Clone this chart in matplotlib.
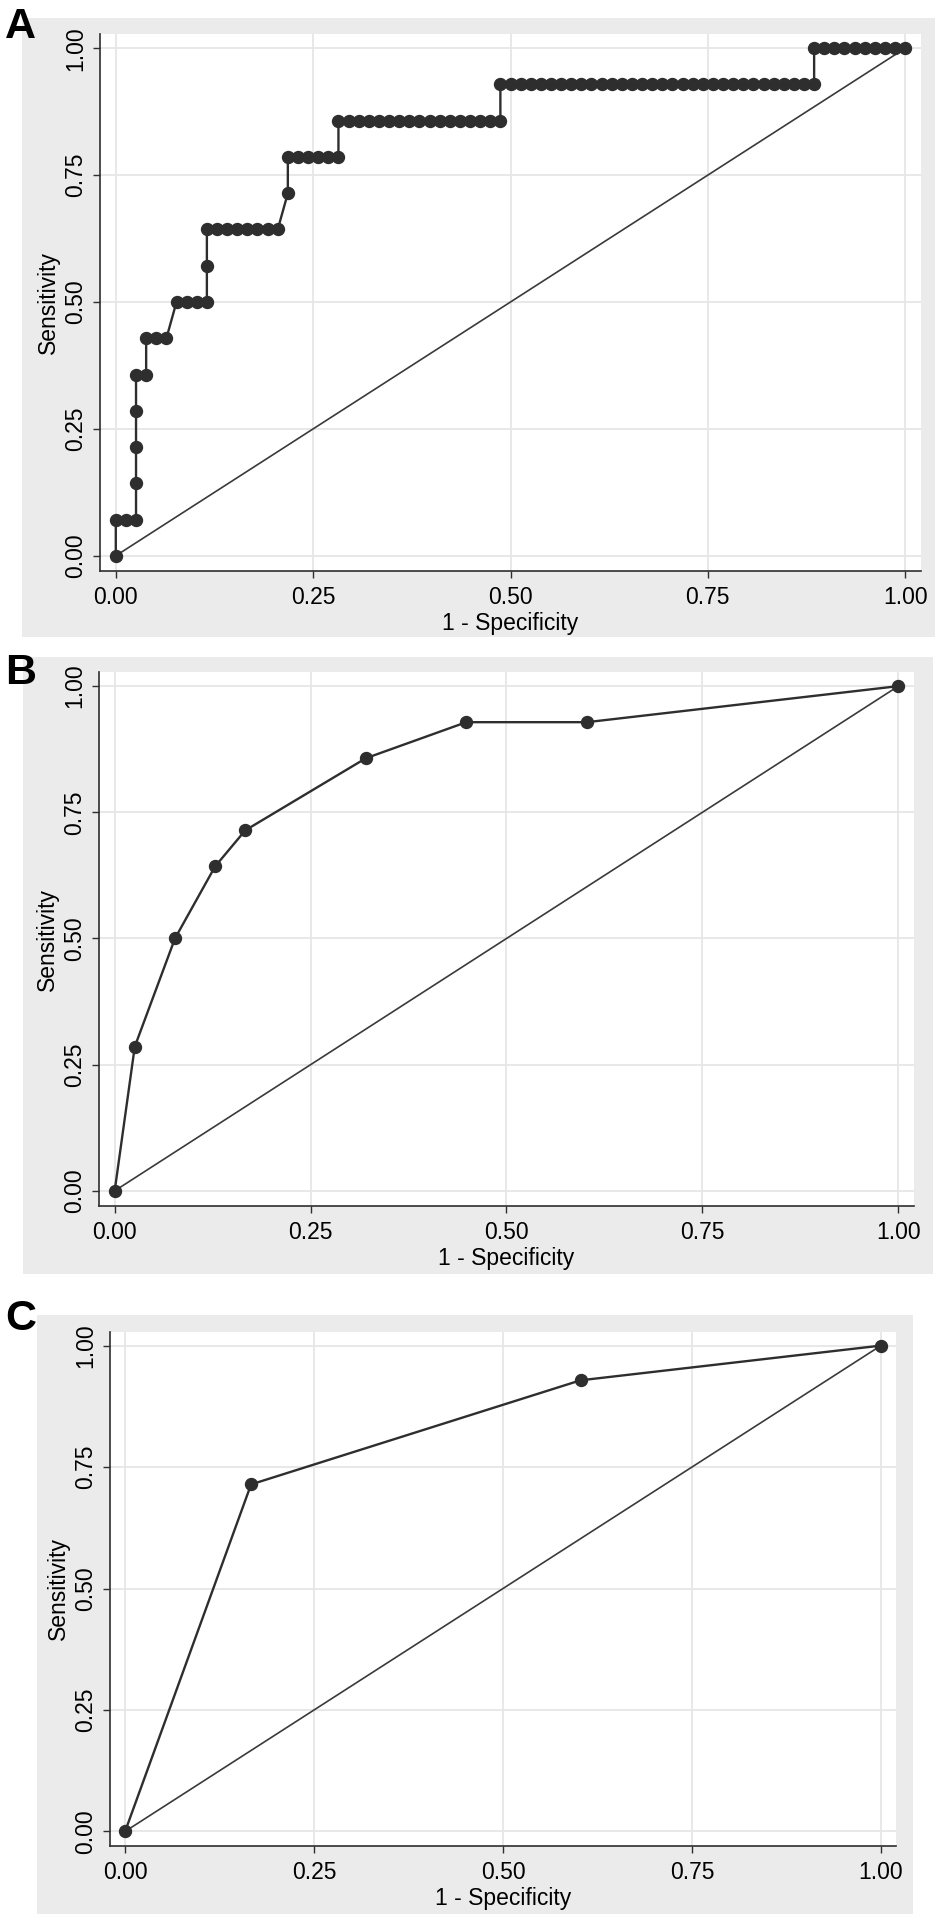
import matplotlib
matplotlib.use("Agg")
import matplotlib.pyplot as plt
from matplotlib.patches import Rectangle
import numpy as np

plt.rcParams['font.family'] = ['Liberation Sans', 'DejaVu Sans']

# ROC data: false-positive / true-positive counts at each cutpoint
N_NEG = 78
N_POS = 14

fp_a = [0, 0, 1, 2, 2, 2, 2, 2, 3, 3, 4, 5, 6, 7, 8, 9, 9, 9,
        10, 11, 12, 13, 14, 15, 16, 17, 17, 18, 19, 20, 21, 22, 22,
        23, 24, 25, 26, 27, 28, 29, 30, 31, 32, 33, 34, 35, 36, 37, 38, 38,
        39, 40, 41, 42, 43, 44, 45, 46, 47, 48, 49, 50, 51, 52, 53, 54,
        55, 56, 57, 58, 59, 60, 61, 62, 63, 64, 65, 66, 67, 68, 69, 69,
        70, 71, 72, 73, 74, 75, 76, 77, 78]
tp_a = [0, 1, 1, 1, 2, 3, 4, 5, 5, 6, 6, 6, 7, 7, 7, 7, 8, 9,
        9, 9, 9, 9, 9, 9, 9, 10, 11, 11, 11, 11, 11, 11, 12,
        12, 12, 12, 12, 12, 12, 12, 12, 12, 12, 12, 12, 12, 12, 12, 12, 13,
        13, 13, 13, 13, 13, 13, 13, 13, 13, 13, 13, 13, 13, 13, 13, 13,
        13, 13, 13, 13, 13, 13, 13, 13, 13, 13, 13, 13, 13, 13, 13, 14,
        14, 14, 14, 14, 14, 14, 14, 14, 14]

fp_b = [0, 2, 6, 10, 13, 25, 35, 47, 78]
tp_b = [0, 4, 7, 9, 10, 12, 13, 13, 14]

fp_c = [0, 13, 47, 78]
tp_c = [0, 10, 13, 14]

ticks = [0, 0.25, 0.5, 0.75, 1.0]
tick_labels = ['0.00', '0.25', '0.50', '0.75', '1.00']

W, H = 942, 1920
BG = '#ebebeb'
INK = '#2e2e2e'
FS = 16.5

# panel letter, data, grey box (px), white plot box (px), letter pos (px)
panels = [
    ('A', fp_a, tp_a, (22, 18, 935, 637), (100, 34, 921, 571), (5, 7)),
    ('B', fp_b, tp_b, (23, 657, 933, 1274), (99, 672, 914, 1206), (5, 653)),
    ('C', fp_c, tp_c, (37, 1315, 913, 1914), (110, 1332, 896, 1846), (5, 1299)),
]

fig = plt.figure(figsize=(W / 100, H / 100), dpi=100)
fig.patch.set_facecolor('white')

for letter, fp, tp, box, plot, lpos in panels:
    x0, y0, x1, y1 = box
    fig.patches.append(Rectangle((x0 / W, 1 - y1 / H), (x1 - x0) / W, (y1 - y0) / H,
                                 transform=fig.transFigure, facecolor=BG,
                                 edgecolor='none', zorder=-10))
    fig.text(lpos[0] / W, 1 - lpos[1] / H, letter, fontsize=31, fontweight='bold',
             ha='left', va='top', color='black')

    px0, py0, px1, py1 = plot
    ax = fig.add_axes([px0 / W, 1 - py1 / H, (px1 - px0) / W, (py1 - py0) / H])
    ax.set_facecolor('white')

    fpr = np.array(fp) / N_NEG
    tpr = np.array(tp) / N_POS
    ax.plot([0, 1], [0, 1], color='#3a3a3a', lw=1.2, zorder=2)
    ax.plot(fpr, tpr, color=INK, lw=1.7, marker='o', markersize=8.6,
            markerfacecolor=INK, markeredgecolor=INK, zorder=3)

    ax.set_xlim(-0.02, 1.02)
    ax.set_ylim(-0.03, 1.028)
    ax.set_xticks(ticks)
    ax.set_yticks(ticks)
    ax.set_xticklabels(tick_labels, fontsize=FS)
    ax.set_yticklabels(tick_labels, fontsize=FS, rotation=90, va='center')
    ax.grid(True, color='#e6e6e6', lw=1.3, zorder=0)
    ax.set_axisbelow(True)
    for s in ('top', 'right'):
        ax.spines[s].set_visible(False)
    for s in ('left', 'bottom'):
        ax.spines[s].set_color(INK)
        ax.spines[s].set_linewidth(1.2)
    ax.tick_params(axis='both', direction='out', length=5, width=1, color=INK,
                   labelcolor='black')
    ax.tick_params(axis='x', pad=6)
    ax.tick_params(axis='y', pad=4)
    ax.set_xlabel('1 - Specificity', fontsize=FS, labelpad=2)
    ax.set_ylabel('Sensitivity', fontsize=FS, labelpad=3)

fig.savefig('out.png', dpi=100, facecolor='white')
